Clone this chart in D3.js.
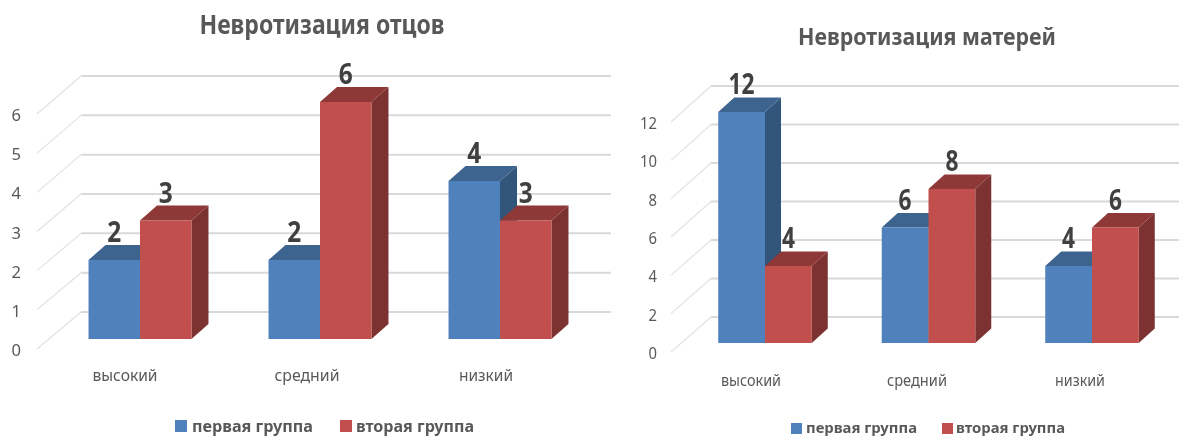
<!DOCTYPE html>
<html lang="ru">
<head>
<meta charset="utf-8">
<title>Невротизация</title>
<script src="https://cdn.jsdelivr.net/npm/d3@7/dist/d3.min.js"></script>
<style>
html,body{margin:0;padding:0;background:#fff;overflow:hidden}
svg{display:block;font-family:"Noto Sans","Open Sans",sans-serif}
</style>
</head>
<body>
<svg id="chart" width="1179" height="437"></svg>
<script>
const categories = ["высокий", "средний", "низкий"];
const seriesNames = ["первая группа", "вторая группа"];
const fathersFirst = [2, 2, 4];
const fathersSecond = [3, 6, 3];
const mothersFirst = [12, 6, 4];
const mothersSecond = [4, 8, 6];
const fathersTicks = [0, 1, 2, 3, 4, 5, 6];
const mothersTicks = [0, 2, 4, 6, 8, 10, 12];

const colors = [
  {front: "#4F81BD", side: "#32547C", top: "#3E648F"},
  {front: "#C0504D", side: "#7D3130", top: "#8F3837"}
];
const svg = d3.select("#chart");
const defs = svg.append("defs");
defs.append("filter").attr("id", "soft").attr("x", "-5%").attr("y", "-5%").attr("width", "110%").attr("height", "110%")
  .append("feGaussianBlur").attr("stdDeviation", 0.5);

function fitText(sel, width) {
  return sel.attr("textLength", width).attr("lengthAdjust", "spacingAndGlyphs");
}

function drawChart(cfg) {
  const g = svg.append("g").attr("filter", "url(#soft)");
  const vmax = d3.max(cfg.ticks);
  const yFront = d3.scaleLinear().domain([0, vmax]).range(cfg.frontY);
  const yBack = d3.scaleLinear().domain([0, vmax]).range(cfg.backY);
  const yAxis = d3.scaleLinear().domain([0, vmax]).range(cfg.axisY);
  const x0 = d3.scaleBand().domain(categories).range(cfg.xRange).paddingInner(0.428).paddingOuter(0.214);
  const x1 = d3.scaleBand().domain([0, 1]).range([0, x0.bandwidth()]);

  // title
  fitText(g.append("text").attr("x", cfg.titleX).attr("y", cfg.titleY).attr("text-anchor", "middle")
    .attr("font-size", cfg.titleSize).attr("font-weight", 700).attr("fill", "#595959").text(cfg.title), cfg.titleW);

  // wall gridlines
  const grid = g.append("g").selectAll("g").data(cfg.ticks).join("g");
  grid.append("line").attr("x1", cfg.wallX).attr("x2", cfg.gridEnd)
    .attr("y1", d => yBack(d)).attr("y2", d => yBack(d))
    .attr("stroke", "#D9D9D9").attr("stroke-width", 2);
  grid.append("line").attr("x1", cfg.floorX).attr("x2", cfg.wallX)
    .attr("y1", d => yAxis(d) - 1).attr("y2", d => yBack(d))
    .attr("stroke", "#E2E2E2").attr("stroke-width", 1.2);

  // axis labels
  g.append("g").selectAll("text").data(cfg.ticks).join("text")
    .attr("x", cfg.labelX).attr("y", d => yAxis(d)).attr("dy", "0.36em").attr("text-anchor", "end")
    .attr("font-size", 17).attr("fill", "#595959")
    .each(function(d) { fitText(d3.select(this).text(d), String(d).length * cfg.digitW); });

  // bars
  const bars = [];
  cfg.series.forEach((vals, s) => vals.forEach((v, i) => bars.push({s, v, cat: categories[i]})));
  const dx = cfg.depthX, dy = cfg.depthY;
  const bar = g.append("g").selectAll("g").data(bars).join("g");
  bar.append("path").attr("fill", d => colors[d.s].side).attr("d", d => {
    const r = x0(d.cat) + x1(d.s) + x1.bandwidth();
    const t = yFront(d.v), b = yFront(0);
    return `M${r},${t}L${r + dx},${t - dy}L${r + dx},${b - dy}L${r},${b}Z`;
  });
  bar.append("path").attr("fill", d => colors[d.s].top).attr("d", d => {
    const l = x0(d.cat) + x1(d.s), r = l + x1.bandwidth();
    const t = yFront(d.v);
    return `M${l},${t}L${l + dx},${t - dy}L${r + dx},${t - dy}L${r},${t}Z`;
  });
  bar.append("rect").attr("fill", d => colors[d.s].front)
    .attr("x", d => x0(d.cat) + x1(d.s)).attr("width", x1.bandwidth())
    .attr("y", d => yFront(d.v)).attr("height", d => yFront(0) - yFront(d.v));

  // data labels
  g.append("g").selectAll("text").data(bars).join("text")
    .attr("x", d => x0(d.cat) + x1(d.s) + x1.bandwidth() / 2)
    .attr("y", d => yFront(d.v) - cfg.valueGap)
    .attr("text-anchor", "middle").attr("font-size", cfg.valueSize).attr("font-weight", 700).attr("fill", "#404040")
    .each(function(d) { fitText(d3.select(this).text(d.v), String(d.v).length * cfg.valueW); });

  // category labels
  g.append("g").selectAll("text").data(categories).join("text")
    .attr("x", (d, i) => cfg.catX[i]).attr("y", cfg.catY).attr("text-anchor", "middle")
    .attr("font-size", 16).attr("fill", "#595959")
    .each(function(d, i) { fitText(d3.select(this).text(d), cfg.catW[i]); });

  // legend
  const leg = g.append("g").selectAll("g").data(seriesNames).join("g");
  leg.append("rect").attr("x", (d, i) => cfg.legX[i]).attr("y", cfg.legY)
    .attr("width", cfg.legBox).attr("height", cfg.legBox).attr("fill", (d, i) => colors[i].front);
  leg.append("text").attr("x", (d, i) => cfg.legTextX[i]).attr("y", cfg.legTextY)
    .attr("font-size", cfg.legSize).attr("font-weight", 700).attr("fill", "#595959")
    .each(function(d, i) { fitText(d3.select(this).text(d), cfg.legW[i]); });
}

drawChart({
  title: "Невротизация отцов", titleX: 322, titleY: 34, titleSize: 26, titleW: 245,
  ticks: fathersTicks, series: [fathersFirst, fathersSecond],
  frontY: [339, 102], backY: [312, 76], axisY: [350, 115],
  xRange: [50, 590], wallX: 81, floorX: 37, gridEnd: 611, labelX: 21, digitW: 9.5,
  depthX: 17, depthY: 15, valueSize: 28, valueW: 14, valueGap: 18,
  catX: [125, 307, 486], catY: 381, catW: [65, 65, 54],
  legX: [175, 340], legY: 420, legBox: 12, legTextX: [192, 356], legTextY: 432, legSize: 16, legW: [121, 118]
});
drawChart({
  title: "Невротизация матерей", titleX: 927, titleY: 45, titleSize: 24, titleW: 258,
  ticks: mothersTicks, series: [mothersFirst, mothersSecond],
  frontY: [343, 112], backY: [317, 86], axisY: [353, 123],
  xRange: [683.25, 1173.75], wallX: 711, floorX: 671, gridEnd: 1179, labelX: 657, digitW: 8.5,
  depthX: 16, depthY: 14.5, valueSize: 28, valueW: 13, valueGap: 18,
  catX: [751, 917, 1080], catY: 386, catW: [60, 60, 50],
  legX: [791, 942], legY: 423, legBox: 11, legTextX: [806, 956], legTextY: 433, legSize: 15, legW: [111, 109]
});
</script>
</body>
</html>
